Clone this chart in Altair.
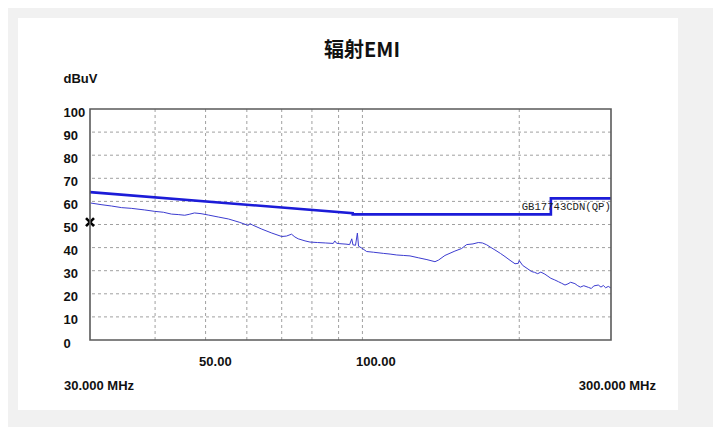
import altair as alt
import pandas as pd

# ---- data ----
freq = [30.1, 31.5, 33, 34.5, 36, 38.2, 39.9, 41.5, 43.0, 44.3, 45.6, 46.5, 47.6, 49, 50.6,
        53, 55.3, 58, 60.4, 60.8, 61.5, 64.1, 67, 70, 71.5, 73.1, 74.2, 75.3, 77.6, 79.3,
        82, 85, 87.9, 88.5, 89.2, 90.5, 93, 94.5, 95.4, 95.9, 97, 97.8, 98.3, 99.7, 101.9,
        105, 109.7, 113, 116.4, 120, 123.4, 128, 133, 137.8, 140, 144, 150.5, 155, 158.5,
        163, 166.9, 170, 173.2, 176, 179.6, 184, 187.8, 192, 196.3, 199.2, 200, 203, 207,
        211.3, 214, 217, 220, 224, 227, 230, 234, 238, 241, 244.8, 248, 251, 255.8, 259,
        262, 266, 271.4, 275, 278, 283.6, 287, 290, 293, 296.4, 300]
level = [59.3, 58.6, 58.0, 57.3, 57.0, 56.3, 55.7, 55.3, 54.5, 54.3, 54.0, 54.4, 55.0, 54.7, 54.1,
         53.2, 52.4, 51.0, 49.6, 50.4, 49.8, 48.0, 46.3, 44.8, 45.0, 45.8, 44.6, 43.8, 42.9, 42.4,
         42.2, 42.0, 41.8, 42.9, 41.9, 41.7, 41.5, 41.3, 43.8, 41.2, 41.0, 46.3, 40.6, 39.8, 38.3,
         38.0, 37.5, 37.2, 36.8, 36.6, 36.4, 35.6, 34.8, 33.9, 34.6, 36.6, 38.5, 39.6, 41.3,
         41.6, 42.2, 42.0, 41.2, 40.2, 39.0, 37.5, 36.1, 34.5, 33.0, 33.2, 34.4, 32.3, 31.0,
         29.6, 29.3, 28.7, 29.4, 28.5, 27.6, 26.7, 26.0, 25.2, 24.6, 23.8, 24.3, 25.0, 24.4, 23.5,
         22.9, 23.5, 22.8, 22.3, 23.4, 23.8, 22.9, 23.6, 22.6, 23.2, 22.5]

limit_freq = [30, 95.8, 95.8, 230, 230, 300]
limit_level = [64.0, 54.9, 54.4, 54.4, 61.3, 61.3]

grid_x = [40, 50, 60, 70, 80, 90, 100, 200]
grid_y = [10, 20, 30, 40, 50, 60, 70, 80, 90]
y_ticks = [0, 10, 20, 30, 40, 50, 60, 70, 80, 90, 100]
x_ticks = [50, 100]

marker_freq = [30]
marker_level = [51]

limit_name = "GB17743CDN(QP)"
title_text = "辐射EMI"
unit_text = "dBuV"
start_text = "30.000 MHz"
stop_text = "300.000 MHz"

# ---- styling ----
W, H = 521, 231
LBL = "'Liberation Sans', Arial, sans-serif"
FS = 13
xs = alt.Scale(type="log", domain=[30, 300], nice=False)
ys = alt.Scale(domain=[0, 100], nice=False)

X_AX = alt.Axis(values=x_ticks, labelExpr="datum.value == 50 ? '50.00' : '100.00'",
                grid=False, ticks=False, domain=False, title=None,
                labelAlign="left", labelOffset=-7, labelBaseline="middle",
                labelPadding=21, labelFont=LBL, labelFontSize=FS,
                labelFontWeight="bold", labelColor="#111", zindex=1)
Y_AX = alt.Axis(values=y_ticks, grid=False, ticks=False, domain=False,
                labelAlign="left", labelBaseline="middle", labelPadding=27,
                labelOffset=3, labelFont=LBL, labelFontSize=FS,
                labelFontWeight="bold", labelColor="#111",
                title=unit_text, titleAngle=0, titleAlign="left",
                titleBaseline="middle", titleX=-27, titleY=-31,
                titleFont=LBL, titleFontSize=FS, titleFontWeight="bold",
                titleColor="#111", zindex=1)


def X(field="f"):
    return alt.X(f"{field}:Q", scale=xs, axis=X_AX)


def Y(field="v"):
    return alt.Y(f"{field}:Q", scale=ys, axis=Y_AX)


trace_df = pd.DataFrame({"f": freq, "v": level})
limit_df = pd.DataFrame({"f": limit_freq, "v": limit_level, "o": list(range(len(limit_freq)))})
gx_df = pd.DataFrame({"f": grid_x})
gy_df = pd.DataFrame({"v": grid_y})
mk_df = pd.DataFrame({"f": marker_freq, "v": marker_level})
one = pd.DataFrame({"a": [0]})

card = alt.Chart(one).mark_rect(color="white").encode(
    x=alt.value(-72), x2=alt.value(588), y=alt.value(-91), y2=alt.value(301))

vgrid = alt.Chart(gx_df).mark_rule(color="#a0a0a0", strokeDash=[3, 3], strokeWidth=1).encode(x=X())
hgrid = alt.Chart(gy_df).mark_rule(color="#a0a0a0", strokeDash=[3, 3], strokeWidth=1).encode(y=Y())

frame = alt.Chart(one).mark_rect(fillOpacity=0, stroke="#5a5a5a", strokeWidth=1.6).encode(
    x=alt.value(0), x2=alt.value(W), y=alt.value(0), y2=alt.value(H))

limit = alt.Chart(limit_df).mark_line(color="#1c1cd8", strokeWidth=2.6).encode(
    x=X(), y=Y(), order="o:Q")

trace = alt.Chart(trace_df).mark_line(color="#3c3cd0", strokeWidth=1).encode(x=X(), y=Y())

marker = alt.Chart(mk_df).mark_point(shape="M-1,-1L1,1M-1,1L1,-1", filled=False,
                                     color="#000", strokeWidth=2.6, opacity=1, size=64).encode(
    x=X(), y=Y())

label_df = pd.DataFrame({"f": [200], "v": [57.5], "t": [limit_name]})
lim_label = alt.Chart(label_df).mark_text(
    align="left", baseline="middle", dx=2.5, font="'Liberation Mono', 'DejaVu Sans Mono', monospace",
    fontSize=10.6, color="#222").encode(x=X(), y=Y(), text="t:N")

start_lbl = alt.Chart(pd.DataFrame({"f": [30], "t": [start_text]})).mark_text(
    align="left", baseline="middle", dx=-26, font=LBL, fontSize=FS, fontWeight="bold",
    color="#111").encode(x=X(), y=alt.value(H + 46), text="t:N")
stop_lbl = alt.Chart(pd.DataFrame({"f": [300], "t": [stop_text]})).mark_text(
    align="right", baseline="middle", dx=45, font=LBL, fontSize=FS, fontWeight="bold",
    color="#111").encode(x=X(), y=alt.value(H + 46), text="t:N")

title_lbl = alt.Chart(pd.DataFrame({"t": [title_text]})).mark_text(
    align="center", baseline="middle", font="'Noto Sans CJK SC', sans-serif", fontSize=20,
    fontWeight="bold", color="#111").encode(x=alt.value(272), y=alt.value(-58), text="t:N")

chart = alt.layer(card, vgrid, hgrid, limit, trace, marker, lim_label, start_lbl, stop_lbl,
                  title_lbl, frame).properties(
    width=W, height=H,
    autosize=alt.AutoSizeParams(type="none"),
    padding={"left": 82, "top": 101, "right": 102, "bottom": 87},
    background="#f1f1f1",
).configure_view(stroke=None)

chart.save("out.html", embed_options={"renderer": "svg", "actions": False})
